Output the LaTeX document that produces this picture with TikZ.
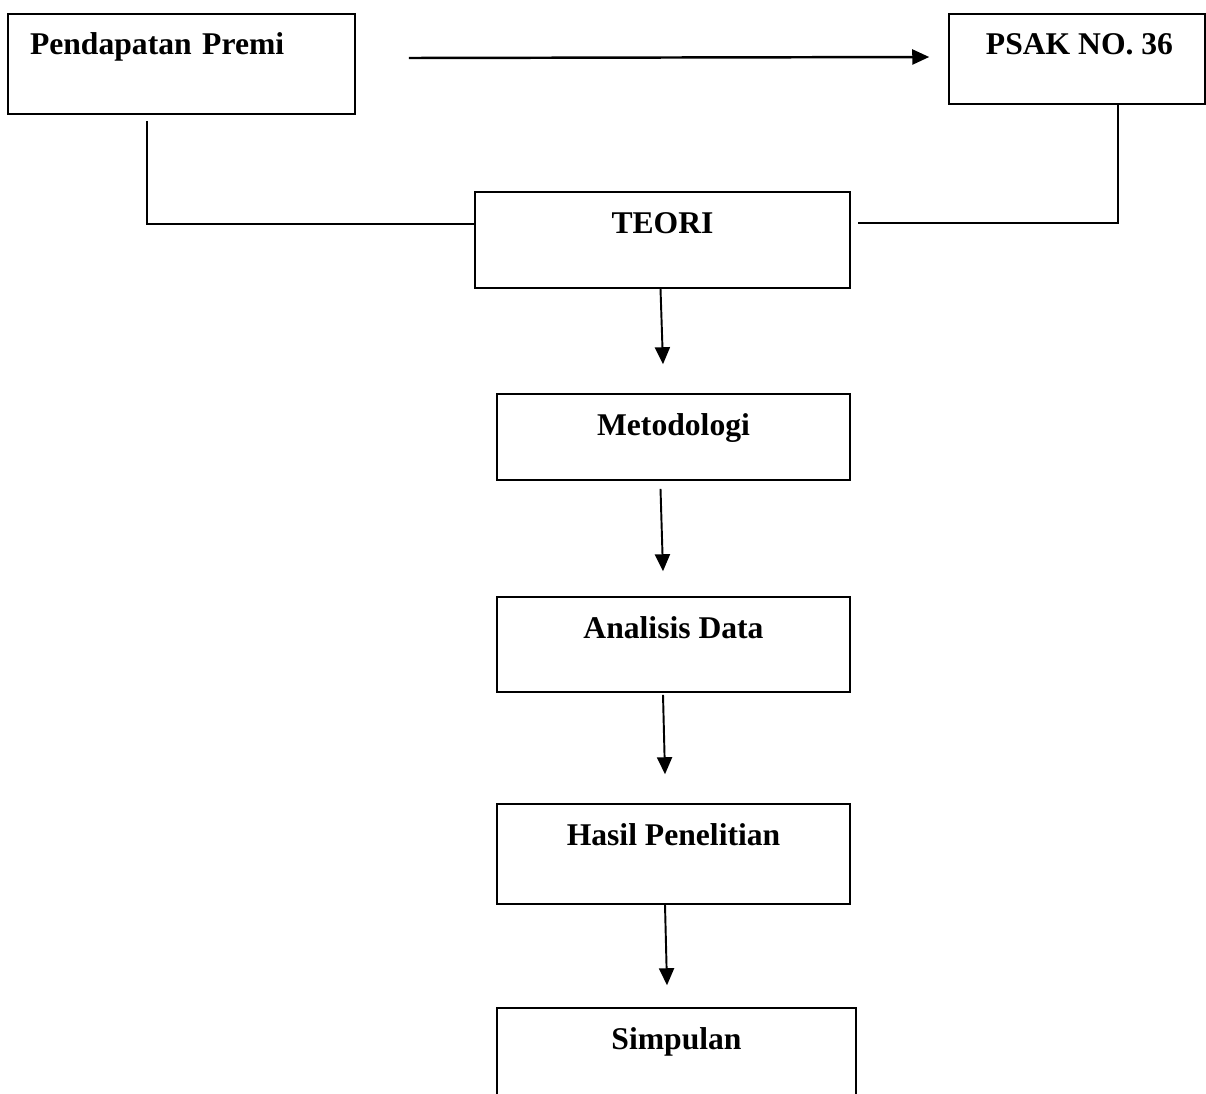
\documentclass[tikz,border=0pt]{standalone}
\usepackage{fontspec}
\setmainfont{Liberation Serif}
\usetikzlibrary{
  positioning,
  calc,
  arrows.meta}
\tikzset{
  %% stage : one box of the research flow
  stage/.style={
    rectangle,
    draw=black,
    line width=0.9pt,
    inner ysep=0pt,
    inner xsep=0pt,
    text height=0.82cm,
    anchor=base,
    font=\bfseries\fontsize{18}{21}\selectfont,
    align=center
  },
  %% flow : arrow from one stage to the next
  flow/.style={
    line width=1.1pt,
    -{Triangle[length=0.34cm,width=0.3cm]}
  },
  %% link : plain elbow line into TEORI
  link/.style={
    line width=0.9pt
  }
}

\begin{document}
\begin{tikzpicture}
  [x=0.02cm,
  y=-0.02cm,
  align=center]

  \useasboundingbox (0, 0) rectangle (1206, 1093);
  \clip (0, 0) rectangle (1206, 1093);

  %% Top row
  \node (premi) [stage, text height=0.8cm, text depth=1.2cm,
    text width=6.06cm, inner xsep=0.44cm, align=left] at (181.5, 54){%
    Pendapatan Premi%
  };

  \node (psak) [stage, text height=0.8cm, text depth=1.0cm,
    minimum width=5.12cm] at (1077, 54){%
    \hspace*{0.1cm}PSAK NO. 36%
  };

  %% Main column
  \node (teori) [stage, text depth=1.1cm, minimum width=7.5cm]
  at (662.5, 233){%
    TEORI%
  };

  \node (metodologi) [stage, text depth=0.9cm, minimum width=7.06cm]
  at (673.5, 435){%
    Metodologi%
  };

  \node (analisis) [stage, text depth=1.08cm, minimum width=7.06cm]
  at (673.5, 638){%
    Analisis Data%
  };

  \node (hasil) [stage, text depth=1.18cm, minimum width=7.06cm]
  at (673.5, 845){%
    Hasil Penelitian%
  };

  \node (simpulan) [stage, text depth=1.4cm, minimum width=7.18cm]
  at (676.5, 1049){%
    Simpulan%
  };

  %% Connections
  \coordinate (arrowstart) at ($(premi.east) + (53, -6)$);
  \coordinate (arrowtip) at ($(psak.west) + (-19, -2)$);
  \draw [flow, line width=1.4pt] (arrowstart) -- (arrowtip);

  \draw [link] ($(premi.south) + (-34.5, 6)$)
    |- ($(teori.west) + (0, -16)$);
  \draw [link] ($(psak.south) + (41, 0)$)
    |- ($(teori.east) + (7, -17)$);

  \coordinate (tip1) at ($(metodologi.north) + (-10.5, -29)$);
  \coordinate (tip2) at ($(analisis.north) + (-10.5, -25)$);
  \coordinate (tip3) at ($(hasil.north) + (-8.5, -29)$);
  \coordinate (tip4) at ($(simpulan.north) + (-9.5, -22)$);

  \draw [flow] ($(teori.south) + (-2, 0)$) -- (tip1);
  \draw [flow] ($(metodologi.south) + (-13, 8)$) -- (tip2);
  \draw [flow] ($(analisis.south) + (-10.5, 2)$) -- (tip3);
  \draw [flow] ($(hasil.south) + (-8.5, 0)$) -- (tip4);

\end{tikzpicture}
\end{document}
